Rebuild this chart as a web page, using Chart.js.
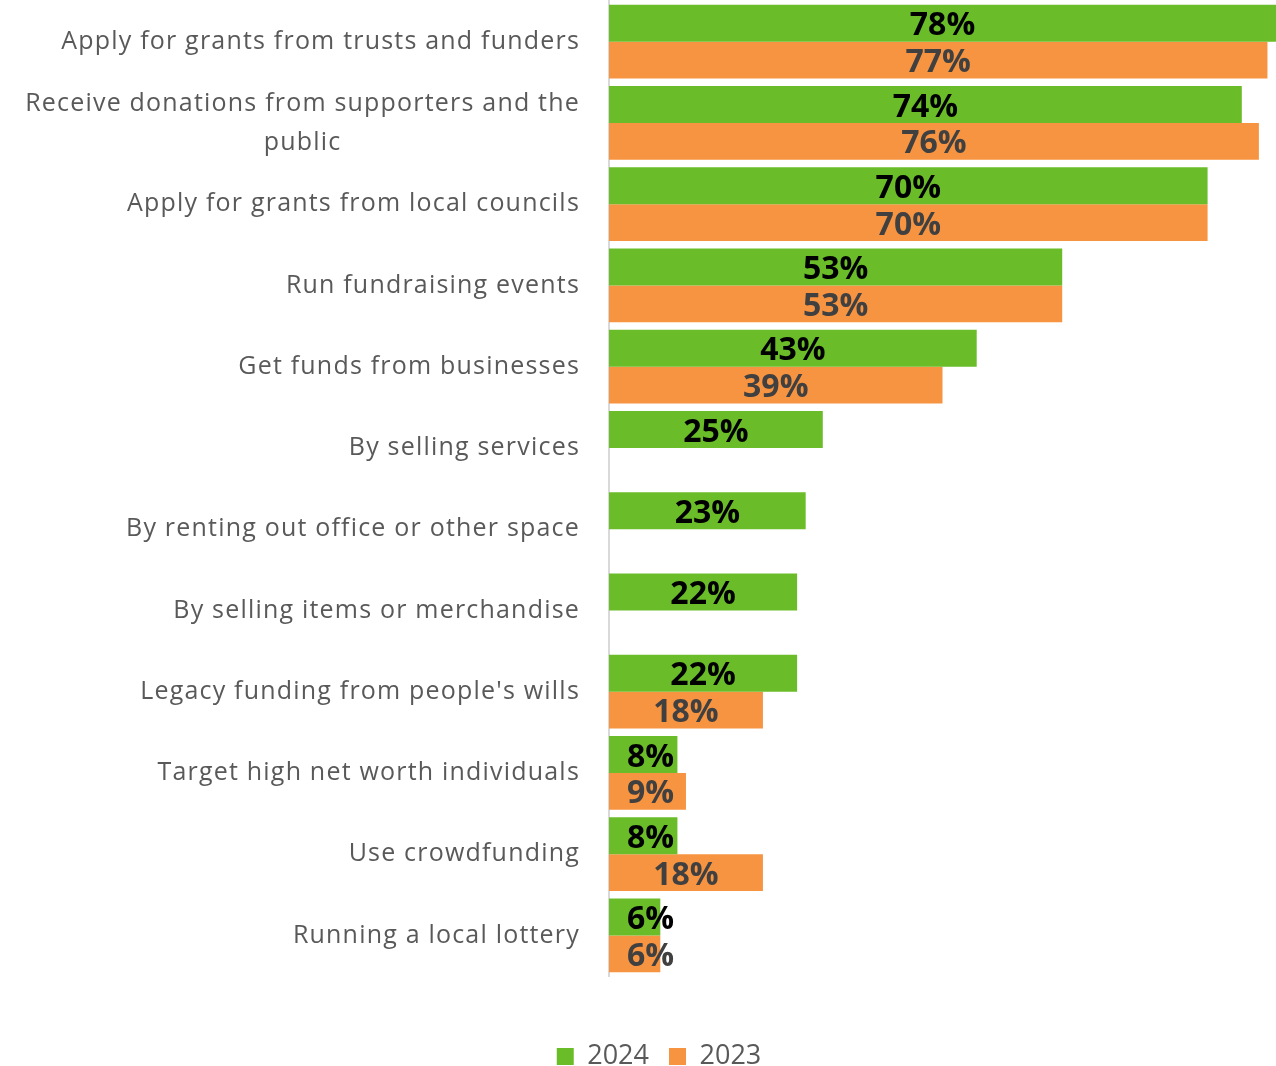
<!DOCTYPE html>
<html>
<head>
<meta charset="utf-8">
<title>Fundraising methods</title>
<script src="https://cdn.jsdelivr.net/npm/chart.js@4/dist/chart.umd.min.js"></script>
<style>
    html, body { margin: 0; padding: 0; background: #fff; }
    #wrap { width: 1276px; height: 1066px; position: relative; }
</style>
</head>
<body>
<div id="wrap"><canvas id="chartFundraising"></canvas></div>
<script>
const categories = [
    'Apply for grants from trusts and funders',
    ['Receive donations from supporters and the', 'public'],
    'Apply for grants from local councils',
    'Run fundraising events',
    'Get funds from businesses',
    'By selling services',
    'By renting out office or other space',
    'By selling items or merchandise',
    "Legacy funding from people's wills",
    'Target high net worth individuals',
    'Use crowdfunding',
    'Running a local lottery'
]
const values2024 = [78, 74, 70, 53, 43, 25, 23, 22, 22, 8, 8, 6]
const values2023 = [77, 76, 70, 53, 39, null, null, null, 18, 9, 18, 6]
const seriesNames = ['2024', '2023']

const GREEN = '#6abd28'
const ORANGE = '#f79441'
const FONT = '"Open Sans", "DejaVu Sans", sans-serif'

// category names on the left, right aligned; wrapped lines centred on each other
const categoryLabels = {
    id: 'categoryLabels',
    afterDraw(chart) {
        const ctx = chart.ctx
        const y = chart.scales.y
        const right = chart.chartArea.left - 29
        const lineH = 39
        ctx.save()
        ctx.font = '25px ' + FONT
        ctx.letterSpacing = '1.2px'
        ctx.fillStyle = '#595959'
        ctx.textAlign = 'center'
        ctx.textBaseline = 'middle'
        categories.forEach((label, i) => {
            const lines = Array.isArray(label) ? label : [label]
            const w = Math.max(...lines.map(l => ctx.measureText(l).width))
            const cx = right - w / 2
            const cy = y.getPixelForValue(i)
            lines.forEach((l, j) => {
                ctx.fillText(l, cx, cy + (j - (lines.length - 1) / 2) * lineH)
            })
        })
        ctx.restore()
    }
}

// percentage labels in the middle of each bar
const valueLabels = {
    id: 'valueLabels',
    afterDatasetsDraw(chart) {
        const ctx = chart.ctx
        ctx.save()
        ctx.font = 'bold 32px ' + FONT
        ctx.textAlign = 'center'
        ctx.textBaseline = 'middle'
        chart.data.datasets.forEach((ds, di) => {
            const meta = chart.getDatasetMeta(di)
            ctx.fillStyle = di === 0 ? '#000000' : '#404040'
            meta.data.forEach((bar, i) => {
                const v = ds.data[i]
                if (v === null || v === undefined) return
                const text = v + '%'
                const w = ctx.measureText(text).width
                const x = Math.max((bar.x + bar.base) / 2, bar.base + 18 + w / 2)
                ctx.fillText(text, x, bar.y + 3)
            })
        })
        ctx.restore()
    }
}

// push the legend down into the bottom margin, below the plot
const legendOffset = {
    id: 'legendOffset',
    afterLayout(chart) {
        const lg = chart.legend
        if (!lg) return
        lg.top += 47
        lg.bottom += 47
    }
}

new Chart(document.getElementById('chartFundraising'), {
    type: 'bar',
    data: {
        labels: categories,
        datasets: [{
            label: seriesNames[0],
            data: values2024,
            backgroundColor: GREEN,
            barPercentage: 1,
            categoryPercentage: 0.906
        }, {
            label: seriesNames[1],
            data: values2023,
            backgroundColor: ORANGE,
            barPercentage: 1,
            categoryPercentage: 0.906
        }]
    },
    options: {
        indexAxis: 'y',
        responsive: true,
        maintainAspectRatio: false,
        animation: false,
        layout: {
            padding: { left: 42, top: 1, right: 0, bottom: 33 }
        },
        scales: {
            x: {
                display: false,
                min: 0,
                max: 78
            },
            y: {
                grid: { display: false },
                border: { display: true, color: '#d9d9d9', width: 2 },
                ticks: { display: false },
                afterFit(scale) {
                    scale.width = 567
                }
            }
        },
        plugins: {
            tooltip: { enabled: false },
            legend: {
                position: 'bottom',
                labels: {
                    color: '#595959',
                    font: { family: FONT, size: 27 },
                    boxWidth: 17,
                    boxHeight: 17,
                    padding: 20
                }
            }
        }
    },
    plugins: [categoryLabels, valueLabels, legendOffset]
})
</script>
</body>
</html>
